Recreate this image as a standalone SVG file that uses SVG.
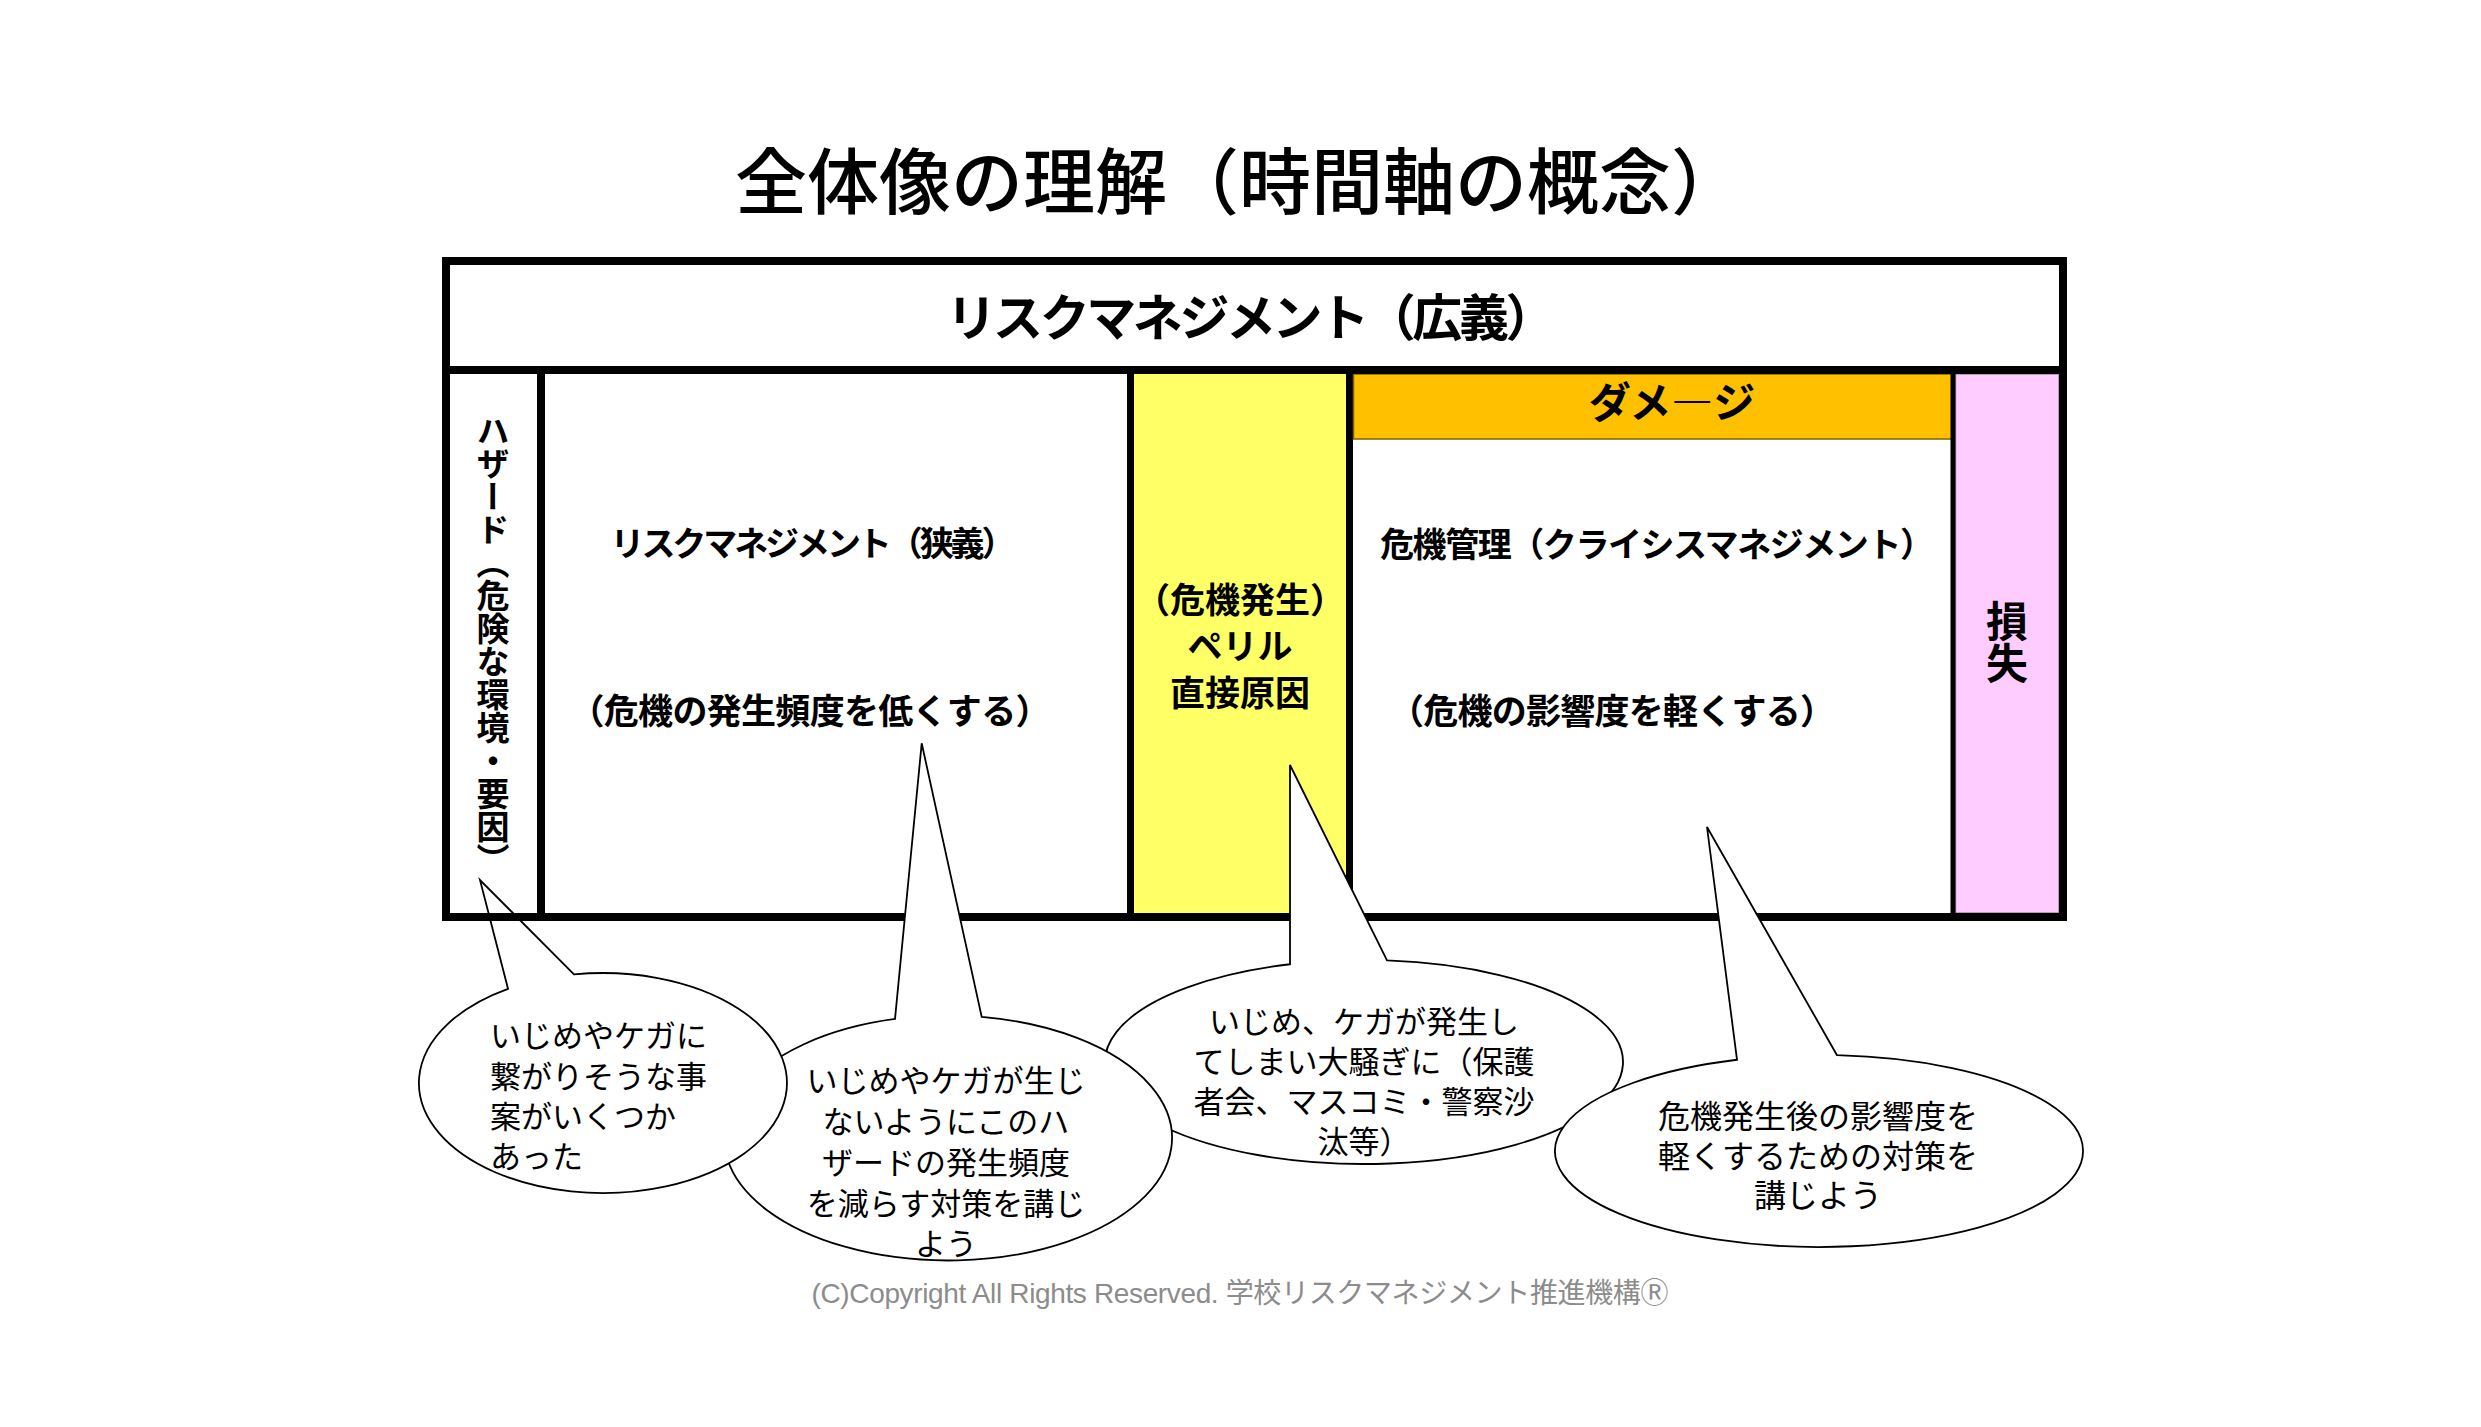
<svg xmlns="http://www.w3.org/2000/svg" width="2481" height="1427" viewBox="0 0 2481 1427">
<style>
  text { font-family: "Noto Sans CJK JP", "Noto Sans", sans-serif; fill: #000; }
  .b { font-weight: bold; }
  .mid { text-anchor: middle; }
  .bub { font-size: 31px; }
  .callout { fill: #fff; stroke: #000; stroke-width: 1.8; stroke-linejoin: miter; }
  .frame { fill: none; stroke: #000; stroke-width: 8; }
  .vert { writing-mode: vertical-rl; }
</style>
<rect x="0" y="0" width="2481" height="1427" fill="#fff"/>

<g id="title">
  <text x="1239" y="208" class="mid" font-size="72" font-weight="500">全体像の理解（時間軸の概念）</text>
</g>

<g id="frame">
  <rect x="446" y="261" width="1617" height="656" fill="#fff"/>
  <rect x="1130.5" y="370" width="219" height="547" fill="#FFFF66" stroke="#000" stroke-width="7"/>
  <rect x="1353.5" y="374" width="599.5" height="65" fill="#FFC000" stroke="#7F6000" stroke-width="1.5"/>
  <rect x="1955.5" y="374" width="103.5" height="539" fill="#FFCCFF" stroke="#a08aa0" stroke-width="1.5"/>
  <line x1="1953" y1="370" x2="1953" y2="917" stroke="#000" stroke-width="5"/>
  <line x1="446" y1="370" x2="2063" y2="370" stroke="#000" stroke-width="8"/>
  <rect class="frame" x="446" y="261" width="1617" height="656"/>
</g>

<g id="header">
  <text x="1251" y="336" class="mid b" font-size="50" textLength="609">リスクマネジメント（広義）</text>
</g>

<g id="hazard-label">
  <text x="493" y="414" class="b vert" font-size="33">ハザード（危険な環境・要因）</text>
</g>

<g id="risk-narrow">
  <text x="813" y="556" class="mid b" font-size="34" textLength="405">リスクマネジメント（狭義）</text>
  <text x="810" y="724" class="mid b" font-size="35" textLength="481">（危機の発生頻度を低くする）</text>
</g>

<g id="peril">
  <text x="1240" y="613" class="mid b" font-size="35">（危機発生）</text>
  <text x="1240" y="659" class="mid b" font-size="35">ペリル</text>
  <text x="1240" y="706" class="mid b" font-size="35">直接原因</text>
</g>

<g id="damage">
  <text x="1672" y="418" class="mid b" font-size="42" letter-spacing="0">ダメ―ジ</text>
</g>

<g id="crisis">
  <text x="1657" y="557" class="mid b" font-size="34" textLength="554">危機管理（クライシスマネジメント）</text>
  <text x="1612" y="724" class="mid b" font-size="35" textLength="446">（危機の影響度を軽くする）</text>
</g>

<g id="loss">
  <text x="2007" y="600" class="b vert" font-size="42">損失</text>
</g>

<g id="bubble3">
  <path class="callout" d="M1387,960.4 L1290,765 L1290,964.25 A259,102 0 1 0 1387,960.4 Z"/>
  <text class="bub mid" x="1364" y="1033">いじめ、ケガが発生し</text>
  <text class="bub mid" x="1364" y="1073">てしまい大騒ぎに（保護</text>
  <text class="bub mid" x="1364" y="1113">者会、マスコミ・警察沙</text>
  <text class="bub mid" x="1364" y="1153">汰等）</text>
</g>

<g id="bubble4">
  <path class="callout" d="M1837,1055.22 L1707,827 L1737,1059.75 A264,96 0 1 0 1837,1055.22 Z"/>
  <text class="mid" font-size="32" x="1818" y="1128">危機発生後の影響度を</text>
  <text class="mid" font-size="32" x="1818" y="1168">軽くするための対策を</text>
  <text class="mid" font-size="32" x="1818" y="1207">講じよう</text>
</g>

<g id="bubble2">
  <path class="callout" d="M981.7,1016.89 L921.7,743.3 L895,1018.98 A224,122.5 0 1 0 981.7,1016.89 Z"/>
  <text class="bub mid" x="946" y="1092">いじめやケガが生じ</text>
  <text class="bub mid" x="946" y="1133">ないようにこのハ</text>
  <text class="bub mid" x="946" y="1174">ザードの発生頻度</text>
  <text class="bub mid" x="946" y="1215">を減らす対策を講じ</text>
  <text class="bub mid" x="946" y="1255">よう</text>
</g>

<g id="bubble1">
  <path class="callout" d="M574,974.4 L480,880 L508,988.8 A184,110 0 1 0 574,974.4 Z"/>
  <text class="bub" x="490" y="1047">いじめやケガに</text>
  <text class="bub" x="490" y="1088">繋がりそうな事</text>
  <text class="bub" x="490" y="1128">案がいくつか</text>
  <text class="bub" x="490" y="1168">あった</text>
</g>

<g id="hazard-box">
  <rect class="frame" x="446" y="370" width="95" height="547"/>
</g>

<g id="copyright">
  <text x="1240" y="1303" class="mid" font-size="28" textLength="857" style="font-family: 'Liberation Sans', 'Noto Sans CJK JP', sans-serif; fill: #8c8c8c;">(C)Copyright All Rights Reserved. 学校リスクマネジメント推進機構Ⓡ</text>
</g>
</svg>
